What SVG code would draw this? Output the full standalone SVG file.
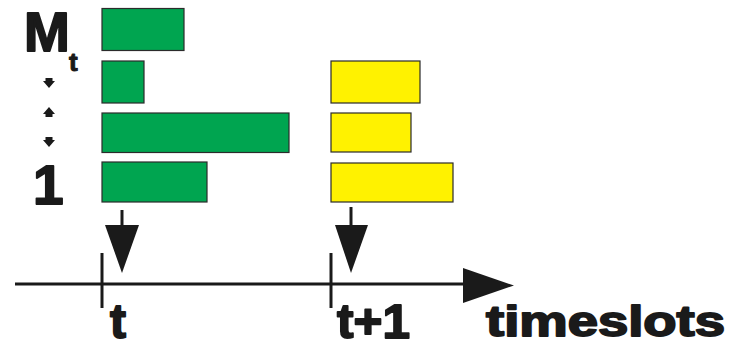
<svg xmlns="http://www.w3.org/2000/svg" width="730" height="348" viewBox="0 0 730 348">
<style>
.g{fill:#00A550;stroke:#2b2b2b;stroke-width:1.2}
.y{fill:#FFF200;stroke:#2b2b2b;stroke-width:1.2}
.ln{stroke:#1a1a1a;stroke-width:3;fill:none}
.hd{fill:#1a1a1a}
.tx{font-family:"Liberation Sans",Arial,sans-serif;font-weight:bold;fill:#1a1a1a;stroke:#1a1a1a;stroke-width:1.8;stroke-linejoin:round}
</style>
<rect width="730" height="348" fill="#fff"/>
<g id="labels">
<text class="tx" x="24" y="51" font-size="55">M</text>
<text class="tx" x="69" y="71" font-size="26" style="stroke-width:1">t</text>
<polygon class="hd" points="45.5,78 52.5,78 52.5,81 55,81 49,88 43,81 45.5,81"/>
<polygon class="hd" points="49,107 55,114 52.5,114 52.5,117 45.5,117 45.5,114 43,114"/>
<polygon class="hd" points="45.5,137 52.5,137 52.5,140 55,140 49,147 43,140 45.5,140"/>
<text class="tx" x="33" y="204" font-size="55">1</text>
</g>
<g id="green-t">
<rect class="g" x="102" y="8.5" width="82" height="42"/>
<rect class="g" x="102" y="61" width="42" height="42"/>
<rect class="g" x="102" y="113" width="187" height="39.5"/>
<rect class="g" x="102" y="162" width="105" height="40"/>
</g>
<g id="yellow-t1">
<rect class="y" x="331" y="61" width="89" height="42"/>
<rect class="y" x="331" y="113" width="80" height="39"/>
<rect class="y" x="331" y="163" width="122" height="39"/>
</g>
<g id="connectors">
<line class="ln" x1="15" y1="284" x2="466" y2="284"/>
<polygon class="hd" points="463,268 514,285.5 463,303"/>
<line class="ln" x1="102" y1="253" x2="102" y2="308"/>
<line class="ln" x1="331" y1="253" x2="331" y2="308"/>
<line class="ln" x1="122" y1="210" x2="122" y2="228"/>
<polygon class="hd" points="105,225 139,225 122,273"/>
<line class="ln" x1="351" y1="207" x2="351" y2="228"/>
<polygon class="hd" points="335,225 368,225 351,273"/>
</g>
<g id="axis-labels">
<text class="tx" x="110" y="338" font-size="48">t</text>
<text class="tx" x="337" y="338" font-size="48" textLength="73" lengthAdjust="spacingAndGlyphs">t+1</text>
<text class="tx" x="486" y="336" font-size="42" textLength="239" lengthAdjust="spacingAndGlyphs">timeslots</text>
</g>
</svg>
